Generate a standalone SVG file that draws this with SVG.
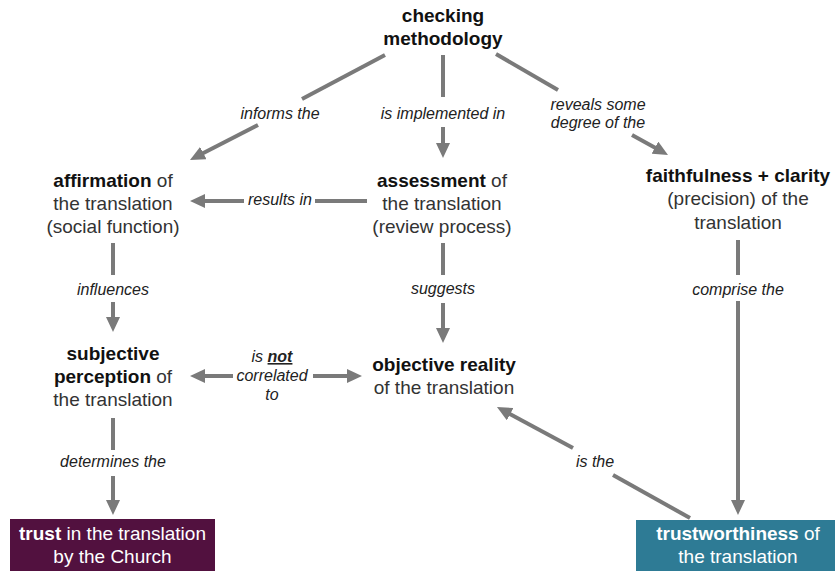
<svg xmlns="http://www.w3.org/2000/svg" width="835" height="571" viewBox="0 0 835 571">
  <style>
    .node { font-family: "Liberation Sans", Arial, Helvetica, sans-serif; font-size: 19px; fill: #333; text-anchor: middle; }
    .node .b, .node.b { font-weight: bold; fill: #111; }
    .box { font-family: "Liberation Sans", Arial, Helvetica, sans-serif; font-size: 19px; fill: #fff; text-anchor: middle; }
    .box .b { font-weight: bold; }
    .lbl { font-family: "Liberation Sans", Arial, Helvetica, sans-serif; font-size: 16px; font-style: italic; fill: #222; text-anchor: middle; }
    .ln { stroke: #7a7a7a; stroke-width: 4; fill: none; }
    .arr { marker-end: url(#head); }
  </style>
  <defs>
    <marker id="head" markerUnits="userSpaceOnUse" viewBox="0 0 15 14" markerWidth="15" markerHeight="14" refX="7" refY="7" orient="auto">
      <path d="M0,0 L15,7 L0,14 z" fill="#7a7a7a"/>
    </marker>
  </defs>
  <rect width="835" height="571" fill="#fff"/>

  <g id="connectors">
    <!-- checking methodology -> affirmation -->
    <line class="ln" x1="385" y1="55" x2="302" y2="99"/>
    <line class="ln arr" x1="258" y1="125" x2="197.1" y2="156.3"/>
    <!-- checking methodology -> assessment -->
    <line class="ln" x1="443" y1="55" x2="443" y2="97"/>
    <line class="ln arr" x1="443" y1="127" x2="443" y2="150"/>
    <!-- checking methodology -> faithfulness + clarity -->
    <line class="ln" x1="496" y1="54" x2="558" y2="90"/>
    <line class="ln arr" x1="632" y1="135" x2="661" y2="151.1"/>
    <!-- assessment -> affirmation -->
    <line class="ln" x1="367" y1="201" x2="315" y2="201"/>
    <line class="ln arr" x1="244" y1="201" x2="198" y2="201"/>
    <!-- affirmation -> subjective perception -->
    <line class="ln" x1="113" y1="243" x2="113" y2="275"/>
    <line class="ln arr" x1="113" y1="302" x2="113" y2="324"/>
    <!-- assessment -> objective reality -->
    <line class="ln" x1="443" y1="243" x2="443" y2="275"/>
    <line class="ln arr" x1="443" y1="303" x2="443" y2="335"/>
    <!-- faithfulness + clarity -> trustworthiness -->
    <line class="ln" x1="738" y1="240" x2="738" y2="275"/>
    <line class="ln arr" x1="738" y1="301" x2="738" y2="507"/>
    <!-- subjective perception <-> objective reality -->
    <line class="ln arr" x1="233" y1="376" x2="198" y2="376"/>
    <line class="ln arr" x1="313" y1="376" x2="354" y2="376"/>
    <!-- subjective perception -> trust -->
    <line class="ln" x1="113" y1="418" x2="113" y2="450"/>
    <line class="ln arr" x1="113" y1="476" x2="113" y2="507"/>
    <!-- trustworthiness -> objective reality -->
    <line class="ln" x1="690" y1="518" x2="613" y2="475"/>
    <line class="ln arr" x1="573" y1="448" x2="504" y2="410.8"/>

    <text class="lbl" x="280" y="118.5">informs the</text>
    <text class="lbl" x="443" y="118.5">is implemented in</text>
    <text class="lbl" x="598" y="109.5">reveals some</text>
    <text class="lbl" x="598" y="128">degree of the</text>
    <text class="lbl" x="280" y="205">results in</text>
    <text class="lbl" x="113" y="294.5">influences</text>
    <text class="lbl" x="443" y="294">suggests</text>
    <text class="lbl" x="738" y="295">comprise the</text>
    <text class="lbl" x="272" y="362">is <tspan font-weight="bold" text-decoration="underline">not</tspan></text>
    <text class="lbl" x="272" y="381">correlated</text>
    <text class="lbl" x="272" y="400">to</text>
    <text class="lbl" x="113" y="467">determines the</text>
    <text class="lbl" x="595" y="467">is the</text>
  </g>

  <g id="checking-methodology">
    <text class="node b" x="443" y="22">checking</text>
    <text class="node b" x="443" y="45">methodology</text>
  </g>

  <g id="affirmation">
    <text class="node" x="113" y="187"><tspan class="b">affirmation</tspan> of</text>
    <text class="node" x="113" y="210">the translation</text>
    <text class="node" x="113" y="233">(social function)</text>
  </g>

  <g id="assessment">
    <text class="node" x="442" y="187"><tspan class="b">assessment</tspan> of</text>
    <text class="node" x="442" y="210">the translation</text>
    <text class="node" x="442" y="233">(review process)</text>
  </g>

  <g id="faithfulness-clarity">
    <text class="node b" x="738" y="181.5">faithfulness + clarity</text>
    <text class="node" x="738" y="205">(precision) of the</text>
    <text class="node" x="738" y="228.5">translation</text>
  </g>

  <g id="subjective-perception">
    <text class="node b" x="113" y="360">subjective</text>
    <text class="node" x="113" y="383"><tspan class="b">perception</tspan> of</text>
    <text class="node" x="113" y="406">the translation</text>
  </g>

  <g id="objective-reality">
    <text class="node b" x="444" y="371">objective reality</text>
    <text class="node" x="444" y="394">of the translation</text>
  </g>

  <g id="trust">
    <rect x="10" y="519" width="205" height="52" fill="#52113f"/>
    <text class="box" x="112.5" y="540"><tspan class="b">trust</tspan> in the translation</text>
    <text class="box" x="112.5" y="563">by the Church</text>
  </g>

  <g id="trustworthiness">
    <rect x="636" y="520" width="199" height="51" fill="#2e7b95"/>
    <text class="box" x="738" y="540"><tspan class="b">trustworthiness</tspan> of</text>
    <text class="box" x="738" y="563">the translation</text>
  </g>
</svg>
